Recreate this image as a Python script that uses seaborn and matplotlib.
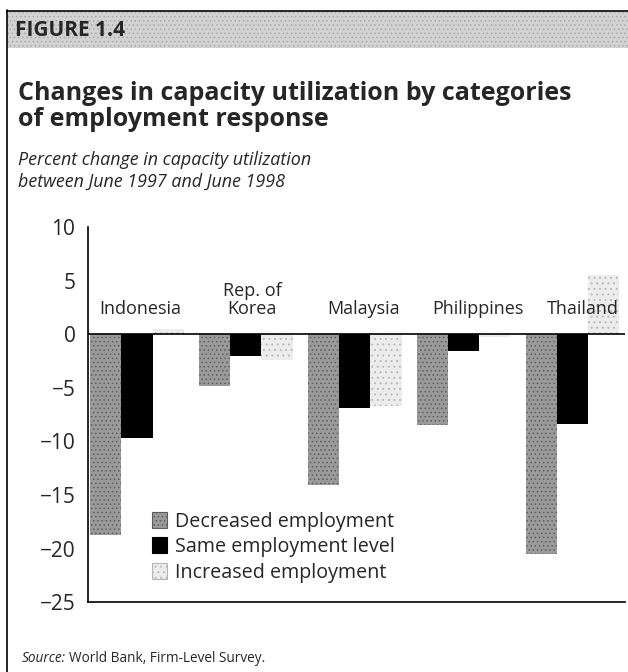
import matplotlib
matplotlib.use("Agg")
import matplotlib.pyplot as plt
from matplotlib.patches import Rectangle, Patch
from matplotlib.lines import Line2D
import seaborn as sns
import pandas as pd

countries = ["Indonesia", "Rep. of\nKorea", "Malaysia", "Philippines", "Thailand"]
series = ["Decreased employment", "Same employment level", "Increased employment"]
decreased = [-18.7, -4.8, -14.1, -8.5, -20.5]
same = [-9.7, -2.0, -6.9, -1.6, -8.4]
increased = [0.5, -2.4, -6.7, -0.3, 5.5]
yticks = [10, 5, 0, -5, -10, -15, -20, -25]

rows = []
for vals, s in zip([decreased, same, increased], series):
    for c, v in zip(countries, vals):
        rows.append({"country": c, "series": s, "value": v})
df = pd.DataFrame(rows)

sns.set_theme(style="white")
FONT = ["Open Sans", "DejaVu Sans"]
plt.rcParams["font.family"] = FONT
plt.rcParams["hatch.linewidth"] = 0.6

fig = plt.figure(figsize=(6.28, 6.72), dpi=100)
ax = fig.add_axes([0.140, 0.104, 0.855, 0.558])

colors = ["#9a9a9a", "#000000", "#ececec"]
hatches = ["....", None, "..."]
hcolors = ["#5e5e5e", "#000000", "#b4b4b4"]

sns.barplot(data=df, x="country", y="value", hue="series", order=countries,
            hue_order=series, palette=colors, width=0.86, ax=ax,
            saturation=1, legend=False, linewidth=0, errorbar=None)

for cont, h, hc in zip(ax.containers, hatches, hcolors):
    for bar in cont:
        if h:
            bar.set_hatch(h)
            bar.set_edgecolor(hc)
            bar.set_linewidth(0)

ax.set_xlim(-0.45, 4.48)
ax.set_ylim(-25, 10)
ax.set_yticks(yticks)
ax.set_yticklabels([str(t).replace("-", "\u2212") for t in yticks])
ax.tick_params(axis="y", length=0, labelsize=15, pad=9)
ax.set_xticks([])
ax.set_xlabel("")
ax.set_ylabel("")
for s in ["top", "right"]:
    ax.spines[s].set_visible(False)
for s in ["left", "bottom"]:
    ax.spines[s].set_color("black")
    ax.spines[s].set_linewidth(1.2)
ax.axhline(0, color="black", lw=1.2, zorder=5)

label_dx = [0.03, 0.06, 0.08, 0.13, 0.09]
for i, (c, dx) in enumerate(zip(countries, label_dx)):
    ax.text(i + dx, 1.5, c, ha="center", va="bottom", fontsize=13,
            linespacing=1.0, family=FONT)

handles = [Patch(facecolor=colors[i], edgecolor=hcolors[i] if hatches[i] else "black",
                 hatch=hatches[i], linewidth=0.8) for i in range(3)]
leg = ax.legend(handles, series, loc="lower left", bbox_to_anchor=(0.09, 0.01),
                frameon=False, fontsize=14.2, handlelength=0.75, handleheight=0.85,
                handletextpad=0.4, labelspacing=0.28, borderaxespad=0.4)

# header band and frame
fig.patches.append(Rectangle((7 / 628, 1 - 48 / 672), 1 - 7 / 628, 36 / 672,
                             transform=fig.transFigure, facecolor="#d2d2d2",
                             edgecolor="#aaaaaa", hatch="....", lw=0, zorder=0))
fig.lines.append(Line2D([7 / 628, 7 / 628], [0, 1 - 10 / 672], transform=fig.transFigure,
                        color="black", lw=1.2))
fig.lines.append(Line2D([7 / 628, 1], [1 - 11 / 672, 1 - 11 / 672], transform=fig.transFigure,
                        color="black", lw=1.2))

fig.text(15 / 628, 1 - 30 / 672, "FIGURE 1.4", fontsize=15, fontweight="bold",
         va="center", ha="left", family=FONT)
fig.text(18 / 628, 1 - 81 / 672,
         "Changes in capacity utilization by categories\nof employment response",
         fontsize=18, fontweight="bold", va="top", ha="left", linespacing=1.05, family=FONT)
fig.text(18 / 628, 1 - 151 / 672,
         "Percent change in capacity utilization\nbetween June 1997 and June 1998",
         fontsize=12.9, style="italic", va="top", ha="left", linespacing=1.3, family=FONT)
fig.text(22 / 628, 1 - 658 / 672, "Source:", fontsize=9.8, style="italic",
         va="center", ha="left", family=FONT)
fig.text(69 / 628, 1 - 658 / 672, "World Bank, Firm-Level Survey.", fontsize=9.8,
         va="center", ha="left", family=FONT)

fig.savefig("out.png", dpi=100)
